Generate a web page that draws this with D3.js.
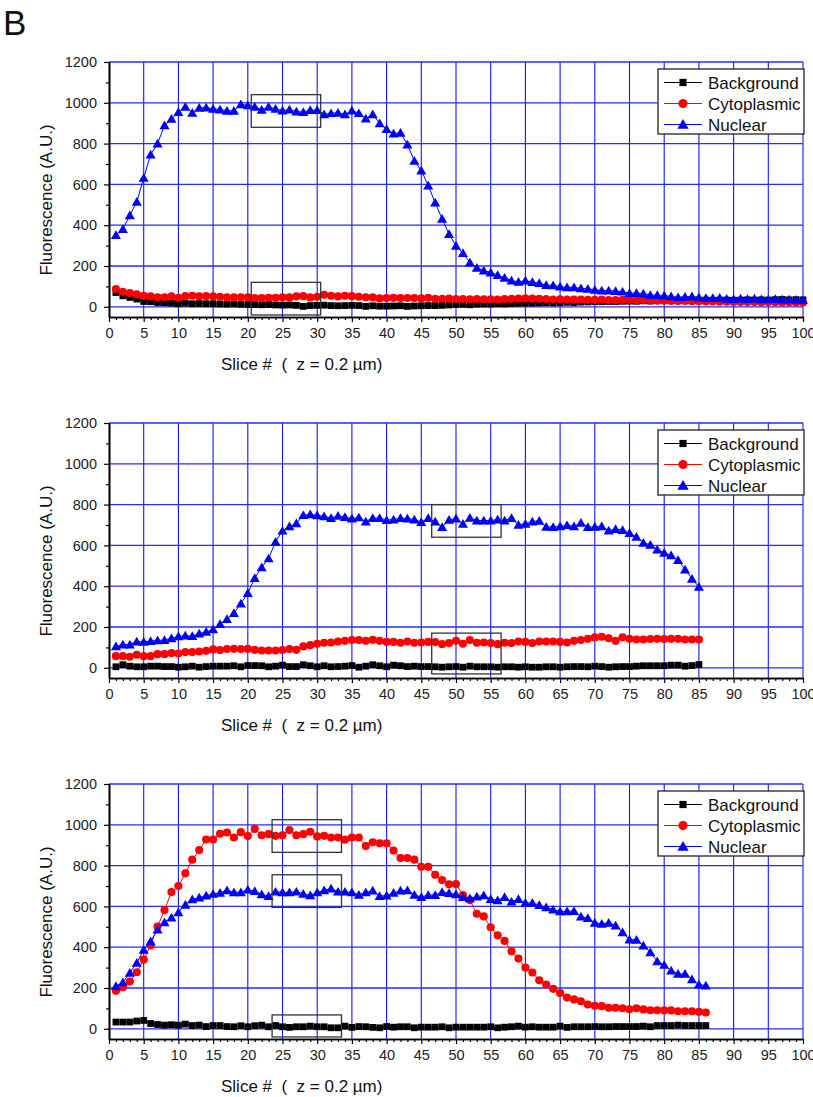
<!DOCTYPE html>
<html>
<head>
<meta charset="utf-8">
<script src="https://cdn.jsdelivr.net/npm/d3@7"></script>
<style>
  body { margin: 0; background: #fff; }
  text { font-family: "Liberation Sans", Arial, sans-serif; }
</style>
</head>
<body>
<div class="plot"></div>
<script>
// slice numbers are just the frame index along z
var slicesA = d3.range(1, 101);
var slicesB = d3.range(1, 86);
var slicesC = d3.range(1, 87);

// panel 1
var backgroundA = [70, 54, 46, 38, 26, 25, 21, 20, 18, 15, 18, 15, 16, 15, 15, 14, 13, 14, 12, 11,
    11, 10, 11, 9, 8, 9, 7, 2, 6, 7, 8, 6, 5, 6, 7, 6, 2, 5, 3, 3,
    4, 5, 2, 4, 5, 6, 6, 7, 9, 11, 12, 10, 13, 14, 13, 15, 14, 16, 17, 18,
    18, 19, 20, 19, 21, 22, 21, 23, 24, 25, 25, 26, 26, 27, 28, 27, 29, 28, 30, 31,
    31, 30, 32, 31, 32, 33, 32, 33, 33, 32, 33, 34, 33, 34, 33, 35, 36, 34, 35, 34];
var cytoplasmicA = [87, 74, 67, 61, 54, 51, 47, 47, 51, 44, 52, 54, 51, 52, 51, 49, 46, 46, 47, 46,
    43, 43, 44, 44, 47, 46, 51, 52, 46, 49, 59, 54, 51, 54, 52, 49, 47, 46, 41, 43,
    44, 43, 43, 43, 41, 44, 39, 39, 40, 38, 38, 37, 38, 37, 37, 36, 38, 39, 40, 41,
    40, 39, 38, 36, 37, 35, 35, 36, 34, 34, 35, 33, 33, 34, 34, 32, 33, 31, 30, 30,
    29, 28, 29, 27, 27, 26, 26, 25, 25, 24, 24, 23, 24, 22, 23, 22, 21, 22, 21, 21];
var nuclearA = [352, 381, 448, 514, 632, 746, 800, 889, 921, 954, 980, 951, 975, 977, 970, 967, 961, 961, 993, 987,
    980, 966, 980, 970, 962, 967, 957, 954, 964, 964, 943, 949, 951, 943, 962, 949, 923, 943, 899, 871,
    849, 853, 795, 715, 668, 594, 511, 431, 356, 299, 263, 217, 191, 178, 168, 155, 142, 129, 122, 129,
    121, 116, 106, 105, 99, 95, 95, 90, 88, 83, 80, 80, 77, 74, 67, 67, 65, 57, 57, 55,
    51, 47, 49, 51, 46, 43, 43, 44, 39, 38, 40, 38, 40, 37, 36, 38, 35, 36, 34, 33];

// panel 2
var backgroundB = [5, 15, 8, 5, 5, 8, 8, 6, 6, 3, 5, 8, 3, 6, 8, 8, 8, 10, 5, 11,
    11, 10, 5, 8, 13, 6, 6, 15, 10, 5, 10, 5, 6, 8, 11, 3, 8, 15, 10, 5,
    13, 10, 6, 8, 6, 6, 5, 3, 5, 6, 3, 8, 5, 5, 5, 3, 5, 5, 3, 5,
    3, 3, 5, 5, 3, 5, 6, 6, 5, 8, 6, 3, 5, 6, 6, 8, 10, 10, 10, 10,
    13, 13, 8, 11, 16];
var cytoplasmicB = [57, 57, 54, 64, 57, 57, 67, 67, 72, 70, 77, 77, 80, 83, 90, 87, 92, 93, 92, 93,
    88, 85, 85, 85, 87, 92, 88, 105, 111, 118, 123, 124, 129, 132, 136, 136, 132, 137, 132, 127,
    127, 123, 129, 123, 124, 127, 126, 116, 121, 132, 118, 136, 123, 124, 121, 116, 123, 121, 129, 127,
    121, 129, 129, 129, 127, 124, 132, 136, 142, 149, 152, 145, 132, 150, 142, 139, 139, 141, 142, 141,
    142, 142, 139, 139, 139];
var nuclearB = [105, 114, 114, 129, 127, 131, 134, 136, 145, 154, 158, 155, 168, 176, 188, 214, 239, 268, 315, 366,
    440, 493, 536, 618, 672, 693, 708, 748, 752, 747, 743, 734, 745, 739, 732, 737, 717, 734, 734, 724,
    727, 734, 732, 727, 714, 734, 717, 690, 725, 732, 706, 735, 722, 722, 722, 727, 722, 734, 701, 706,
    717, 721, 691, 690, 693, 699, 693, 711, 690, 691, 693, 673, 680, 675, 660, 642, 613, 603, 580, 564,
    551, 528, 482, 436, 397];

// panel 3
var backgroundC = [33, 33, 33, 38, 41, 26, 21, 18, 20, 18, 23, 16, 18, 11, 16, 16, 11, 10, 15, 10,
    15, 18, 10, 16, 10, 7, 10, 10, 13, 10, 10, 5, 5, 13, 7, 11, 10, 7, 5, 11,
    8, 10, 10, 5, 8, 8, 8, 10, 5, 8, 8, 8, 8, 8, 10, 5, 8, 10, 13, 8,
    10, 8, 8, 8, 13, 7, 10, 10, 10, 11, 10, 10, 11, 11, 11, 11, 13, 10, 16, 16,
    16, 18, 16, 16, 16, 16];
var cytoplasmicC = [186, 204, 232, 277, 339, 409, 501, 582, 670, 700, 762, 829, 876, 928, 928, 956, 962, 938, 964, 945,
    980, 949, 954, 946, 949, 974, 949, 954, 966, 943, 946, 938, 938, 927, 938, 938, 896, 914, 909, 909,
    874, 837, 837, 829, 794, 794, 755, 729, 708, 710, 656, 631, 564, 551, 498, 458, 431, 380, 344, 300,
    276, 238, 217, 196, 175, 153, 144, 135, 119, 113, 111, 103, 103, 101, 96, 101, 95, 91, 91, 90,
    90, 86, 86, 86, 83, 80];
var nuclearC = [209, 228, 274, 323, 387, 429, 486, 522, 545, 571, 608, 635, 643, 653, 661, 666, 679, 669, 669, 682,
    675, 659, 651, 672, 669, 669, 672, 662, 654, 669, 679, 687, 672, 672, 669, 657, 669, 677, 651, 653,
    666, 677, 679, 657, 646, 656, 656, 670, 665, 659, 646, 639, 648, 654, 636, 630, 646, 623, 636, 617,
    617, 607, 595, 584, 576, 576, 577, 550, 543, 520, 515, 520, 506, 473, 437, 436, 408, 375, 331, 313,
    285, 269, 269, 243, 217, 212];

// highlighted windows [slice from, slice to, value from, value to]
var boxesA = [[20.5, 30.5, 880, 1040], [20.5, 30.5, -40, 120]];
var boxesB = [[46.5, 56.5, 640, 800], [46.5, 56.5, -30, 170]];
var boxesC = [[23.5, 33.5, 865, 1025], [23.5, 33.5, 595, 755], [23.5, 33.5, -40, 68]];

var seriesNames = ["Background", "Cytoplasmic", "Nuclear"];
var seriesColors = ["#000000", "#ff0000", "#0000ff"];
var seriesShapes = [d3.symbolSquare, d3.symbolCircle, d3.symbolTriangle];
var xTicks = d3.range(0, 101, 5);
var yTicks = [0, 200, 400, 600, 800, 1000, 1200];

var svgWidth = 813;
var svgHeight = 1097;
var margin = {left: 109, right: 10};
var width = 803 - margin.left;
var plotHeight = 255;

var svg = d3.select(".plot")
    .append("svg")
    .attr("width", svgWidth)
    .attr("height", svgHeight);

svg.append("text")
    .attr("x", 3)
    .attr("y", 35)
    .attr("font-size", "35px")
    .attr("fill", "#111")
    .text("B");

var xScale = d3.scaleLinear().domain([0, 100]).range([0, width]);
var yScale = d3.scaleLinear().domain([-50, 1200]).range([plotHeight, 0]);

function drawPanel(top, slices, values, boxes) {
    var g = svg.append("g")
        .attr("transform", `translate(${margin.left}, ${top})`);

    // blue grid
    g.selectAll(".vgrid")
        .data(xTicks.slice(1))
        .enter()
        .append("line")
        .attr("x1", d => xScale(d))
        .attr("x2", d => xScale(d))
        .attr("y1", yScale(1200))
        .attr("y2", yScale(-50))
        .attr("stroke", "#1515ff")
        .attr("stroke-width", 1.1);

    g.selectAll(".hgrid")
        .data(yTicks)
        .enter()
        .append("line")
        .attr("x1", 0)
        .attr("x2", xScale(100))
        .attr("y1", d => yScale(d))
        .attr("y2", d => yScale(d))
        .attr("stroke", "#2a2aff")
        .attr("stroke-width", 1.3);

    // series
    values.forEach(function (vals, i) {
        var pts = slices.map((s, k) => [s, vals[k]]);
        var line = d3.line()
            .x(d => xScale(d[0]))
            .y(d => yScale(d[1]));
        g.append("path")
            .datum(pts)
            .attr("d", line)
            .attr("fill", "none")
            .attr("stroke", seriesColors[i])
            .attr("stroke-width", 1);
        var sz = [46, 52, 44][i];
        g.selectAll(null)
            .data(pts)
            .enter()
            .append("path")
            .attr("d", d3.symbol().type(seriesShapes[i]).size(sz))
            .attr("transform", d => `translate(${xScale(d[0])}, ${yScale(d[1]) + (i == 2 ? 1 : 0)})`)
            .attr("fill", seriesColors[i]);
    });

    // axes
    var yAxis = d3.axisLeft(yScale).tickValues(yTicks).tickSize(5).tickSizeOuter(0).tickFormat(d3.format("d"));
    var yMinor = d3.axisLeft(yScale).tickValues(d3.range(100, 1200, 200)).tickSize(3).tickFormat("").tickSizeOuter(0);
    var xAxis = d3.axisBottom(xScale).tickValues(xTicks).tickSize(5).tickSizeOuter(0);
    var xMinor = d3.axisBottom(xScale).tickValues(d3.range(1, 100).filter(d => d % 5 != 0)).tickSize(3).tickFormat("").tickSizeOuter(0);

    var ya = g.append("g").call(yAxis);
    g.append("g").call(yMinor);
    var xa = g.append("g").attr("transform", `translate(0, ${plotHeight})`).call(xAxis);
    g.append("g").attr("transform", `translate(0, ${plotHeight})`).call(xMinor);

    g.selectAll(".domain").attr("stroke", "#000").attr("stroke-width", 1.6);
    g.selectAll(".tick line").attr("stroke", "#000").attr("stroke-width", 1.2);
    ya.selectAll("text")
        .attr("font-size", "14.5px")
        .attr("font-family", "Liberation Sans, Arial, sans-serif")
        .attr("fill", "#222")
        .attr("x", -12);
    xa.selectAll("text")
        .attr("font-size", "14.5px")
        .attr("font-family", "Liberation Sans, Arial, sans-serif")
        .attr("fill", "#222")
        .attr("y", 11);

    // boxes
    g.selectAll(null)
        .data(boxes)
        .enter()
        .append("rect")
        .attr("x", d => xScale(d[0]))
        .attr("y", d => yScale(d[3]))
        .attr("width", d => xScale(d[1]) - xScale(d[0]))
        .attr("height", d => yScale(d[2]) - yScale(d[3]))
        .attr("fill", "none")
        .attr("stroke", "#333")
        .attr("stroke-width", 1.3);

    // legend
    var lg = g.append("g").attr("transform", `translate(${658 - margin.left}, 7)`);
    lg.append("rect")
        .attr("width", 146)
        .attr("height", 65)
        .attr("fill", "#fff")
        .attr("stroke", "#222")
        .attr("stroke-width", 1.3);
    seriesNames.forEach(function (name, i) {
        var cy = 13.5 + i * 21;
        lg.append("line")
            .attr("x1", 6).attr("x2", 44)
            .attr("y1", cy).attr("y2", cy)
            .attr("stroke", seriesColors[i])
            .attr("stroke-width", 1);
        lg.append("path")
            .attr("d", d3.symbol().type(seriesShapes[i]).size([52, 66, 56][i]))
            .attr("transform", `translate(25, ${cy + (i == 2 ? 1 : 0)})`)
            .attr("fill", seriesColors[i]);
        lg.append("text")
            .attr("x", 50)
            .attr("y", cy + 6)
            .attr("font-size", "17px")
            .attr("fill", "#111")
            .text(name);
    });

    // axis titles
    g.append("text")
        .attr("transform", `translate(${52 - margin.left}, 138) rotate(-90)`)
        .attr("text-anchor", "middle")
        .attr("font-size", "17px")
        .attr("fill", "#111")
        .text("Fluorescence (A.U.)");

    g.append("text")
        .attr("x", 221 - margin.left)
        .attr("y", 308)
        .attr("font-size", "17px")
        .attr("fill", "#111")
        .style("white-space", "pre")
        .text("Slice #  (  z = 0.2 \u00b5m)");
}

drawPanel(62, slicesA, [backgroundA, cytoplasmicA, nuclearA], boxesA);
drawPanel(423, slicesB, [backgroundB, cytoplasmicB, nuclearB], boxesB);
drawPanel(784, slicesC, [backgroundC, cytoplasmicC, nuclearC], boxesC);
</script>
</body>
</html>
